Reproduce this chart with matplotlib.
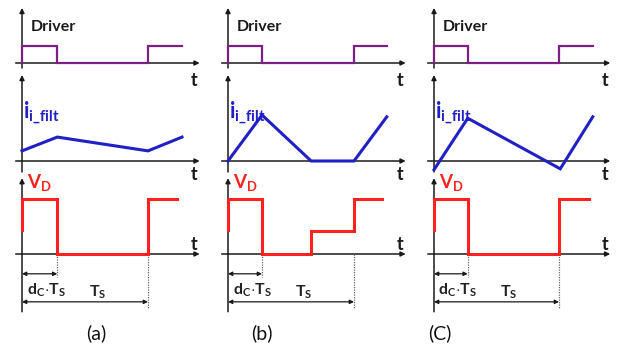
import matplotlib
matplotlib.use("Agg")
import matplotlib.pyplot as plt

plt.rcParams["font.family"] = ["Lato", "DejaVu Sans"]
plt.rcParams["mathtext.fontset"] = "custom"
plt.rcParams["mathtext.rm"] = "Lato"
plt.rcParams["mathtext.bf"] = "Lato:bold"
plt.rcParams["mathtext.it"] = "Lato:italic"

# ---- waveform data (time in units of the switching period T_S) ----
panel_labels = ["(a)", "(b)", "(C)"]
duty = [0.28, 0.27, 0.27]                 # d_C of each case
drive_end = [1.27, 1.26, 1.27]            # where the driver trace stops
vd_end = [1.23, 1.22, 1.24]               # where the V_D trace stops

# gate driver: rising edge at 0, falls at d_C, rises again at T_S
driver_levels = [0, 1, 0, 1]

# filter current, corner points (time, value)
i_times = [
    [0.0, 0.28, 1.0, 1.27],
    [0.0, 0.27, 0.66, 1.0, 1.26],
    [0.0, 0.27, 1.01, 1.27],
]
i_values = [
    [0.22, 0.52, 0.22, 0.52],
    [0.0, 1.0, 0.0, 0.0, 0.96],
    [-0.19, 0.93, -0.17, 0.96],
]

# diode voltage: step edges and the level after each edge
vd_edges = [
    [0.28, 1.0],
    [0.27, 0.66, 1.0],
    [0.27, 1.0],
]
vd_levels = [
    [1.0, 0.0, 1.0],
    [1.0, 0.0, 0.42, 1.0],
    [1.0, 0.0, 1.0],
]

# ---- styling ----
PURPLE = "#7d1f85"
BLUE = "#2020c4"
RED = "#ff2020"
AX = "#1a1a1a"
FIG_W, FIG_H = 630, 347

# per column: time origin (px) and px per T_S
col_origin = [22, 228, 434]
col_scale = [126, 126, 125]
X_LO, X_HI = -0.15, 1.45

# per row: top px, bottom px, baseline px, px per signal unit
rows = [
    (3, 68, 63, 17),
    (68, 172, 161, 46),
    (172, 322, 254, 55),
]
v_tips = [3.24, 1.87, 1.38]
VD_EDGE_START = 0.44

fig = plt.figure(figsize=(FIG_W / 100, FIG_H / 100), dpi=100)


def make_axes(col, row):
    top, bot, base, unit = rows[row]
    ox, sc = col_origin[col], col_scale[col]
    left = ox + X_LO * sc
    width = (X_HI - X_LO) * sc
    ax = fig.add_axes([left / FIG_W, 1 - bot / FIG_H, width / FIG_W, (bot - top) / FIG_H])
    ax.set_xlim(X_LO, X_HI)
    ax.set_ylim(-(bot - base) / unit, (base - top) / unit)
    ax.axis("off")
    return ax


def draw_axes_lines(ax, row):
    lo = ax.get_ylim()[0]
    if row == 2:
        lo = -1.05
    arrow = dict(arrowstyle="-|>", color=AX, lw=1.1, mutation_scale=7,
                 shrinkA=0, shrinkB=0)
    ax.annotate("", xy=(0, v_tips[row]), xytext=(0, lo), arrowprops=arrow,
                annotation_clip=False, zorder=1)
    ax.annotate("", xy=(1.41, 0), xytext=(-0.05, 0), arrowprops=arrow,
                annotation_clip=False, zorder=1)
    if row == 2:
        ax.annotate("t", xy=(1.37, 0), xytext=(0, 9), textcoords="offset pixels",
                    ha="center", va="center", fontsize=13, fontweight="bold", color=AX)
    else:
        ax.annotate("t", xy=(1.37, 0), xytext=(0, -17 if row == 0 else -13),
                    textcoords="offset pixels", ha="center", va="center",
                    fontsize=13, fontweight="bold", color=AX, annotation_clip=False)


for c in range(3):
    d = duty[c]

    # driver row
    ax = make_axes(c, 0)
    draw_axes_lines(ax, 0)
    xs = [0, 0, d, 1.0, drive_end[c]]
    ys = driver_levels + [driver_levels[-1]]
    ax.plot(xs, ys, drawstyle="steps-post", color=PURPLE, lw=1.6, zorder=3,
            solid_joinstyle="miter", clip_on=False)
    ax.text(0.07, 2.1, "Driver", fontsize=11.5, fontweight="bold", color=AX,
            ha="left", va="center")

    # filter current row
    ax = make_axes(c, 1)
    draw_axes_lines(ax, 1)
    ax.plot(i_times[c], i_values[c], color=BLUE, lw=2.2, zorder=3,
            solid_joinstyle="miter", clip_on=False)
    ax.text(0.01, 0.93, r"$\mathbf{i}_{\mathbf{i\_filt}}$", fontsize=15.5,
            color=BLUE, ha="left", va="baseline")

    # diode voltage row
    ax = make_axes(c, 2)
    draw_axes_lines(ax, 2)
    xs = [0, 0] + vd_edges[c] + [vd_end[c]]
    ys = [VD_EDGE_START] + vd_levels[c] + [vd_levels[c][-1]]
    ax.plot(xs, ys, drawstyle="steps-post", color=RED, lw=2.2, zorder=3,
            solid_joinstyle="miter", clip_on=False)
    ax.text(0.04, 1.2, r"$\mathbf{V}_{\mathbf{D}}$", fontsize=13.5, color=RED,
            ha="left", va="baseline")

    # dotted guides and dimension arrows
    ax.plot([d, d], [0, -0.42], color="#666666", lw=0.9, ls=(0, (1, 1)), zorder=2)
    ax.plot([1.0, 1.0], [0, -0.98], color="#666666", lw=0.9, ls=(0, (1, 1)), zorder=2)
    dim = dict(arrowstyle="<|-|>", color=AX, lw=0.9, mutation_scale=6,
               shrinkA=0, shrinkB=0)
    ax.annotate("", xy=(d, -0.36), xytext=(0, -0.36), arrowprops=dim)
    ax.annotate("", xy=(1.0, -0.87), xytext=(0, -0.87), arrowprops=dim)
    ax.text(0.19, -0.66, r"$\mathbf{d_C{\cdot}T_S}$", fontsize=11.5, color="#222222",
            ha="center", va="center")
    ax.text(0.6, -0.69, r"$\mathbf{T_S}$", fontsize=11.5, color="#222222",
            ha="center", va="center")

label_x = [96, 262, 440]
for c in range(3):
    fig.text(label_x[c] / FIG_W, 1 - 333 / FIG_H, panel_labels[c], fontsize=14,
             color="#111111", ha="center", va="center")

fig.savefig("out.png", dpi=100)
